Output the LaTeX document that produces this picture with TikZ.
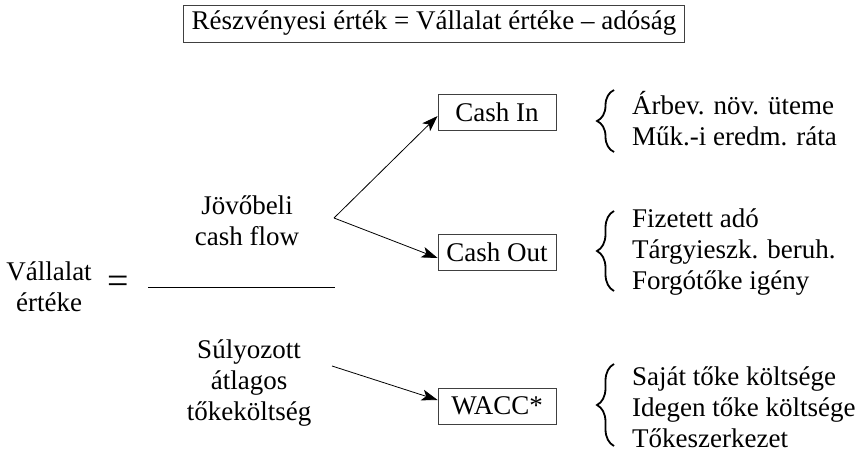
\documentclass[tikz,border=0pt]{standalone}
\usepackage{fontspec}
\setmainfont{Liberation Serif}
\usetikzlibrary{arrows.meta, decorations.pathreplacing}

\begin{document}
\begin{tikzpicture}[x=1pt, y=-1pt,
    every node/.style={font=\fontsize{27}{31}\selectfont},
    box/.style={rectangle, draw=black!75, line width=0.8pt, inner sep=0pt, minimum width=118pt, minimum height=36pt},
    listbrace/.style={decorate, decoration={brace, amplitude=17pt, aspect=0.5}, line width=1.8pt},
    list/.style={anchor=west, align=left, inner sep=0pt},
    arr/.style={-{Stealth[length=16pt, width=11pt, inset=4pt]}, line width=0.8pt}]
    \useasboundingbox (0,0) rectangle (857,452);
    \node(title) [box, inner xsep=8pt, minimum height=37pt] at (434,23.5) {Részvényesi érték = Vállalat értéke – adóság};
    \node(value) [align=center] at (49,287) {Vállalat\\értéke};
    \node(eq) [font=\fontsize{38}{40}\selectfont] at (118,285) {=};
    \coordinate (fracl) at (148,287);
    \coordinate (fracr) at (335,287);
    \draw[line width=0.8pt] (fracl) -- (fracr);
    \node(cashflow) [align=center] at (247,221) {Jövőbeli\\cash flow};
    \node(wacctext) [align=center] at (249,383) {Súlyozott\\átlagos\\tőkeköltség};
    \coordinate (split) at (334,218);
    \coordinate (waccfrom) at (332,366);
    \node(cashin) [box] at (497,112) {Cash In};
    \node(cashout) [box] at (497,252) {Cash Out};
    \node(wacc) [box] at (497,406) {WACC*};
    \draw[arr] (split) -- ([yshift=-4pt]cashin.west);
    \draw[arr] (split) -- ([yshift=-6pt]cashout.west);
    \draw[arr] (waccfrom) -- ([yshift=6pt]wacc.west);
    \draw[listbrace] (614,152) -- (614,90);
    \draw[listbrace] (614,291) -- (614,211);
    \draw[listbrace] (614,446) -- (614,364);
    \node(inlist) [list] at (632,119) {Árbev. növ. üteme\\Műk.-i eredm. ráta};
    \node(outlist) [list] at (632,252) {Fizetett adó\\Tárgyieszk. beruh.\\Forgótőke igény};
    \node(wacclist) [list] at (632,407) {Saját tőke költsége\\Idegen tőke költsége\\Tőkeszerkezet};
\end{tikzpicture}
\end{document}
